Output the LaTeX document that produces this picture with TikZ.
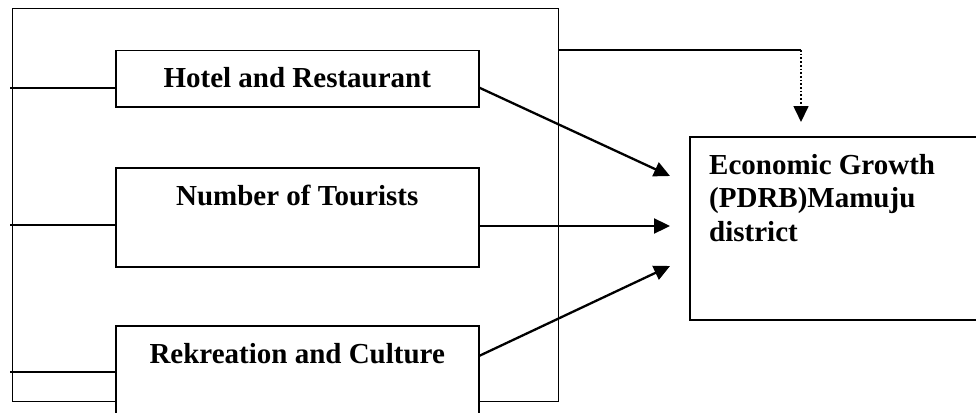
\documentclass[tikz,border=0pt]{standalone}
\usepackage{fontspec}
\setmainfont{Liberation Serif}
\usetikzlibrary{calc,arrows.meta}
\tikzset{
  varbox/.style={draw,line width=1.5pt,fill=white,minimum width=363pt,inner sep=0pt,anchor=north west,font=\bfseries\fontsize{29}{33.5}\selectfont},
  ar/.style={-{Triangle[length=16pt,width=15pt]},line width=2.3pt},
  stub/.style={line width=1.7pt}
}
\begin{document}
\begin{tikzpicture}[x=1pt,y=-1pt]
\useasboundingbox (0,0) rectangle (976,412);
\clip (0,0) rectangle (976,412);
% outer frame
\node[draw,line width=1.2pt,minimum width=546pt,minimum height=393pt,anchor=north west,inner sep=0pt] (frame) at (12,8) {};
% variables
\node[varbox,text height=37pt,text depth=19pt] (hotel) at (115,50) {Hotel and Restaurant};
\node[varbox,text height=38pt,text depth=61pt] (tour) at (115,167) {Number of Tourists};
\node[varbox,text height=38pt,text depth=80pt] (rekr) at (115,325) {Rekreation and Culture};
% result
\node[draw,line width=1.5pt,minimum width=320pt,minimum height=183pt,anchor=north west,inner sep=0pt] (growth) at (689,136) {};
\node[anchor=base west,text width=270pt,align=flush left,inner sep=0pt,font=\bfseries\fontsize{29}{33.5}\selectfont] (growthtxt) at ($(growth.north west)+(20,38)$) {Economic Growth\\(PDRB)Mamuju\\district};
% stubs on the left
\coordinate (s1) at (10,88);
\coordinate (s2) at (10,225);
\coordinate (s3) at (10,372);
\draw[stub] (s1) -- (s1 -| hotel.west);
\draw[stub] (s2) -- (s2 -| tour.west);
\draw[stub] (s3) -- (s3 -| rekr.west);
% arrows
\coordinate (t1) at (670,176);
\coordinate (t2) at (670,226);
\coordinate (t3) at (670,266);
\draw[ar] (hotel.base east) -- (t1);
\draw[ar] (t2 -| tour.east) -- (t2);
\draw[ar] ($(rekr.base east)+(0,-8)$) -- (t3);
% dotted link
\coordinate (d1) at (801,50);
\coordinate (d2) at (801,122);
\draw[stub] (d1 -| frame.east) -- (d1);
\draw[stub,dash pattern=on 1.7pt off 2pt,-{Triangle[length=16pt,width=15pt]}] (d1) -- (d2);
\end{tikzpicture}
\end{document}
